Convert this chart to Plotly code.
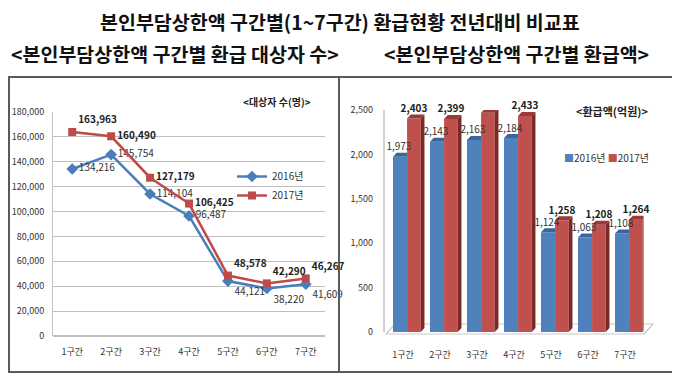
import plotly.graph_objects as go

# ---------------- data ----------------
categories = ["1구간", "2구간", "3구간", "4구간", "5구간", "6구간", "7구간"]
people_2016 = [134216, 145754, 114104, 96487, 44121, 38220, 41609]
people_2017 = [163963, 160490, 127179, 106425, 48578, 42290, 46267]
amount_2016 = [1973, 2143, 2163, 2184, 1124, 1063, 1108]
amount_2017 = [2403, 2399, 2468, 2433, 1258, 1208, 1264]
series_names = ["2016년", "2017년"]
people_ticks = list(range(0, 180001, 20000))
amount_ticks = list(range(0, 2501, 500))

W, H = 680, 378
OFF = 8  # the page body margin shifts the figure by 8px
FONT = "Noto Sans CJK KR"
BLUE, RED = "#4F81BD", "#C0504D"
BLUE_TOP, RED_TOP, RED_SIDE = "#3B6699", "#9C3835", "#7A2927"

def px(x):
    return max(x - OFF, 1) / W

def py(y):
    return 1 - max(y - OFF, 1) / H

def fmt(v):
    return f"{v:,}"

fig = go.Figure()

# ---------------- left: line chart ----------------
pos16 = ["middle right"] * 4 + ["bottom right"] * 3
pos17 = ["top right"] + ["middle right"] * 3 + ["top right"] * 3
fig.add_trace(go.Scatter(
    x=categories, y=people_2016, name=series_names[0], mode="lines+markers+text",
    line=dict(color="#4A7EBB", width=2.5),
    marker=dict(symbol="diamond", size=9, color="#4A7EBB"),
    text=[fmt(v) for v in people_2016], textposition=pos16,
    textfont=dict(family=FONT, size=10, color="#333333"),
    cliponaxis=False, xaxis="x", yaxis="y", legend="legend"))
fig.add_trace(go.Scatter(
    x=categories, y=people_2017, name=series_names[1], mode="lines+markers+text",
    line=dict(color="#BE4B48", width=2.5),
    marker=dict(symbol="square", size=8, color="#BE4B48"),
    text=[fmt(v) for v in people_2017], textposition=pos17,
    textfont=dict(family=FONT, size=10, color="#222222", weight="bold"),
    cliponaxis=False, xaxis="x", yaxis="y", legend="legend"))

# ---------------- right: pseudo-3D bar chart ----------------
idx = list(range(len(categories)))
B_OFF, B_W = -0.27, 0.38
R_OFF, R_W = 0.11, 0.37
DX, DY = 0.1, 45

fig.add_trace(go.Bar(
    x=idx, y=amount_2016, name=series_names[0], offset=B_OFF, width=B_W,
    marker=dict(color=BLUE, line=dict(width=0)), xaxis="x2", yaxis="y2", showlegend=False))
fig.add_trace(go.Bar(
    x=idx, y=amount_2017, name=series_names[1], offset=R_OFF, width=R_W,
    marker=dict(color=RED, line=dict(width=0)), xaxis="x2", yaxis="y2", showlegend=False))

def polys(shapes):
    xs, ys = [], []
    for pts in shapes:
        for (a, b) in pts:
            xs.append(a)
            ys.append(b)
        xs.append(None)
        ys.append(None)
    return xs, ys

blue_caps, red_caps, red_sides = [], [], []
for i, (v6, v7) in zip(idx, zip(amount_2016, amount_2017)):
    x0, x1 = i + B_OFF, i + B_OFF + B_W
    blue_caps.append([(x0, v6), (x1, v6), (x1, v6 + DY), (x0 + DX, v6 + DY), (x0, v6)])
    r0, r1 = i + R_OFF, i + R_OFF + R_W
    red_caps.append([(r0, v7), (r1, v7), (r1 + DX, v7 + DY), (r0 + DX, v7 + DY), (r0, v7)])
    red_sides.append([(r1, 0), (r1 + DX, DY), (r1 + DX, v7 + DY), (r1, v7), (r1, 0)])

for shp, col in [(blue_caps, BLUE_TOP), (red_caps, RED_TOP), (red_sides, RED_SIDE)]:
    xs, ys = polys(shp)
    fig.add_trace(go.Scatter(x=xs, y=ys, mode="lines", fill="toself", fillcolor=col,
                             line=dict(width=0, color=col), showlegend=False,
                             hoverinfo="skip", xaxis="x2", yaxis="y2"))

fig.add_trace(go.Scatter(
    x=[i + B_OFF + B_W / 2 - 0.03 for i in idx], y=[v + DY for v in amount_2016],
    mode="text", text=[fmt(v) for v in amount_2016], textposition="top center",
    textfont=dict(family=FONT, size=10, color="#333333"), showlegend=False,
    cliponaxis=False, xaxis="x2", yaxis="y2"))
fig.add_trace(go.Scatter(
    x=[i + R_OFF + R_W / 2 for i in idx], y=[v + DY for v in amount_2017],
    mode="text", text=[fmt(v) for v in amount_2017], textposition="top center",
    textfont=dict(family=FONT, size=10, color="#222222", weight="bold"), showlegend=False,
    cliponaxis=False, xaxis="x2", yaxis="y2"))

tickfont = dict(family=FONT, size=9, color="#333333")

fig.update_layout(
    width=W, height=H, margin=dict(l=0, r=0, t=0, b=0, autoexpand=False),
    paper_bgcolor="white", plot_bgcolor="rgba(0,0,0,0)",
    font=dict(family=FONT, color="#222222"),
    xaxis=dict(domain=[px(53), px(325)], type="category", showgrid=False,
               showline=False, tickfont=tickfont, ticks="", ticklabelstandoff=9,
               fixedrange=True, automargin=False),
    yaxis=dict(domain=[py(336), py(112)], range=[0, 180000], tickvals=people_ticks,
               tickformat=",", showgrid=True, gridcolor="#BFBFBF", gridwidth=1,
               showline=True, linecolor="#BFBFBF", linewidth=1, zeroline=True,
               zerolinecolor="#BFBFBF", tickfont=tickfont, ticklabelstandoff=6,
               automargin=False),
    xaxis2=dict(domain=[px(384.5), px(643.5)], range=[-0.5, 6.5], tickvals=idx,
                ticktext=categories, showgrid=False, zeroline=False, showline=False,
                tickfont=tickfont, ticks="", ticklabelstandoff=12, automargin=False),
    yaxis2=dict(domain=[py(332), py(110)], range=[0, 2500], tickvals=amount_ticks,
                tickformat=",", showgrid=False, zeroline=False, showline=True,
                linecolor="#D0D0D0", linewidth=1.5, tickfont=tickfont,
                ticklabelstandoff=8, anchor="x2", automargin=False),
    barmode="overlay",
    legend=dict(x=px(232), y=py(162), xanchor="left", yanchor="top",
                bgcolor="rgba(0,0,0,0)", font=dict(family=FONT, size=10, color="#333333"),
                tracegroupgap=0, itemwidth=30),
)

# frame and divider
frame = dict(color="#5A5A5A", width=2)
fig.add_shape(type="rect", xref="paper", yref="paper", x0=px(3), x1=px(676),
              y0=py(372), y1=py(77), line=frame, layer="below")
fig.add_shape(type="line", xref="paper", yref="paper", x0=px(339), x1=px(339),
              y0=py(372), y1=py(77), line=frame)
# 3D floor of the bar chart
fig.add_shape(type="path", xref="paper", yref="paper",
              path=f"M{px(386)},{py(334)} L{px(644)},{py(334)} L{px(653)},{py(324)} L{px(395)},{py(324)} Z",
              line=dict(color="#C8C8C8", width=1.2), fillcolor="white", layer="below")

# texts
def note(x, y, text, size, xanchor="center", color="#111111", bold=True):
    fig.add_annotation(x=px(x), y=py(y), xref="paper", yref="paper", showarrow=False,
                       xanchor=xanchor, yanchor="middle", text=text,
                       font=dict(family=FONT, size=size, color=color,
                                 weight="bold" if bold else "normal"))

note(340, 22, "본인부담상한액 구간별(1~7구간) 환급현황 전년대비 비교표", 19.5)
note(175, 53, "<본인부담상한액 구간별 환급 대상자 수>", 19.5)
note(516, 53, "<본인부담상한액 구간별 환급액>", 19.5)
note(313, 102, "<대상자 수(명)>", 10, xanchor="right", color="#222222")
note(650, 111, "<환급액(억원)>", 11, xanchor="right", color="#222222")
note(651, 158,
     f"<span style='color:{BLUE}'>■</span>{series_names[0]} "
     f"<span style='color:{RED}'>■</span>{series_names[1]}",
     10, xanchor="right", color="#333333", bold=False)

fig.write_html("out.html")
